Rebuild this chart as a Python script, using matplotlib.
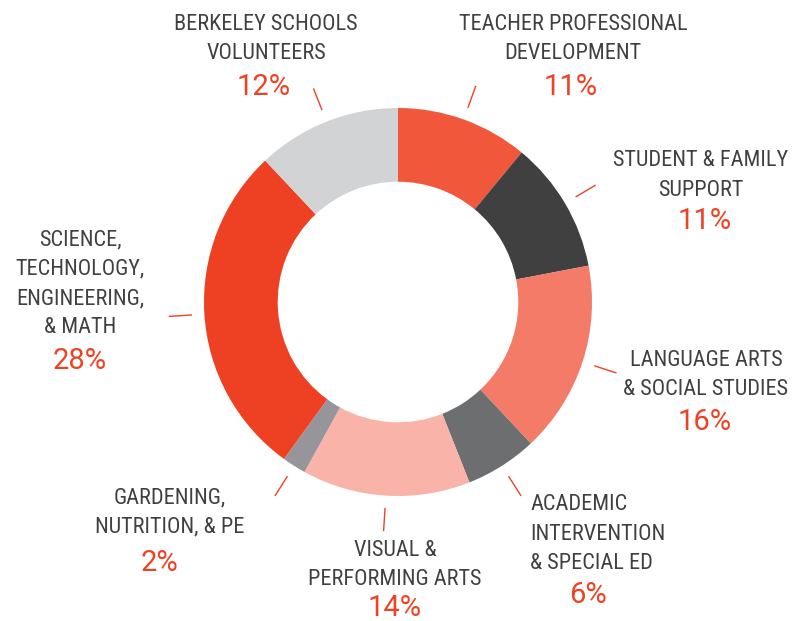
import matplotlib.pyplot as plt
import numpy as np

# data
categories = ["TEACHER PROFESSIONAL\nDEVELOPMENT", "STUDENT & FAMILY\nSUPPORT",
              "LANGUAGE ARTS\n& SOCIAL STUDIES", "ACADEMIC\nINTERVENTION\n& SPECIAL ED",
              "VISUAL &\nPERFORMING ARTS", "GARDENING,\nNUTRITION, & PE",
              "SCIENCE,\nTECHNOLOGY,\nENGINEERING,\n& MATH", "BERKELEY SCHOOLS\nVOLUNTEERS"]
shares = [11, 11, 16, 6, 14, 2, 28, 12]
colors = ["#F1573A", "#404041", "#F47B67", "#6D6E70", "#F9B3A8", "#96969A", "#EE4123", "#D1D3D4"]

# label layout in pixels: x, first line y, pct y, alignment, pct x
label_pos = [(573, 24, 87, "center", 571),
             (701, 161, 221, "center", 705),
             (706, 360, 422, "center", 705),
             (530, 505, 595, "left", 588),
             (395, 550, 608, "center", 395),
             (170, 498, 563, "center", 160),
             (80, 240, 361, "center", 80),
             (266, 24, 87, "center", 264)]

W, H = 796, 621
cx, cy, R = 398, 302, 194
text_col = "#404041"
red = "#EF4123"

plt.rcParams['font.family'] = ['Roboto Condensed', 'Roboto', 'DejaVu Sans']

fig = plt.figure(figsize=(W / 100, H / 100), dpi=100)
ax = fig.add_axes([0, 0, 1, 1])

def fy(y):
    return H - y

wedges, _ = ax.pie(shares, colors=colors, startangle=90, counterclock=False,
                   center=(cx, fy(cy)), radius=R, frame=True,
                   wedgeprops=dict(width=R * 0.38, linewidth=0))
ax.set_xlim(0, W)
ax.set_ylim(0, H)
ax.set_aspect("equal")
ax.axis("off")

for w, name, pct, (x, y0, yp, ha, xp) in zip(wedges, categories, shares, label_pos):
    mid = np.deg2rad((w.theta1 + w.theta2) / 2)
    r1, r2 = 207, 229
    ax.plot([cx + r1 * np.cos(mid), cx + r2 * np.cos(mid)],
            [fy(cy) + r1 * np.sin(mid), fy(cy) + r2 * np.sin(mid)],
            color=red, lw=1)
    for i, line in enumerate(name.split("\n")):
        ax.text(x, fy(y0 + i * 29.3), line, ha=ha, va="center",
                fontsize=16, color=text_col)
    ax.text(xp, fy(yp), f"{pct}%", ha="center", va="center",
            fontsize=21, color=red, family=['Roboto', 'DejaVu Sans'])

fig.savefig("out.png", dpi=100)
